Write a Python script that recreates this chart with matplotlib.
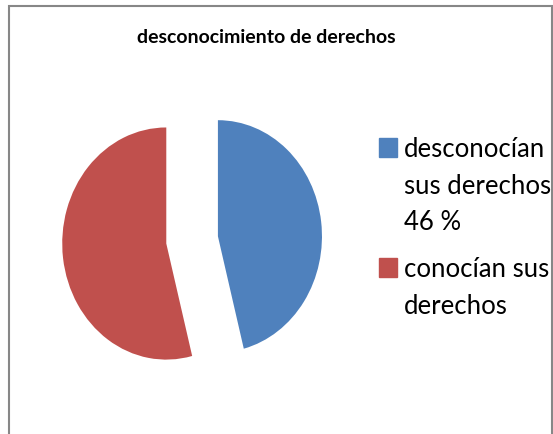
import matplotlib
matplotlib.use("Agg")
import matplotlib.pyplot as plt
from matplotlib.patches import Rectangle

# data
labels = ["desconocían\nsus derechos\n46 %", "conocían sus\nderechos"]
values = [46, 54]
colors = ["#4F81BD", "#C0504D"]
title = "desconocimiento de derechos"

W, H = 553, 434
fig = plt.figure(figsize=(W / 100, H / 100), dpi=100)

# pie axes: Excel style stretched pie (not equal aspect)
ax = fig.add_axes([25.6 / W, (H - 402.4) / H, 333 / W, 325 / H])
wedges, _ = ax.pie(values, colors=colors, startangle=90, counterclock=False,
                   explode=[0.25, 0.25], radius=1.0, wedgeprops=dict(linewidth=0))
ax.set_aspect("auto")
ax.set_xlim(-1.6, 1.6)
ax.set_ylim(-1.4, 1.4)
ax.axis("off")

# outer frame
fig.patches.append(Rectangle((9 / W, -0.1), (552 - 9) / W, 1.1 - 5.5 / H,
                             transform=fig.transFigure, fill=False,
                             edgecolor="#878787", linewidth=1.5))

fig.text(266 / W, 1 - 43 / H, title, ha="center", va="baseline",
         fontsize=14, fontweight="bold", family="Lato")

# legend drawn by hand so the marker sits on the first line
box_top = [138, 258]
line_gap = 36.5
for i, (lab, col) in enumerate(zip(labels, colors)):
    top = box_top[i]
    fig.patches.append(Rectangle((379 / W, 1 - (top + 19) / H), 18 / W, 19 / H,
                                 transform=fig.transFigure, color=col))
    for j, line in enumerate(lab.split("\n")):
        y = top + 19 + j * line_gap
        fig.text(404 / W, 1 - y / H, line, ha="left", va="baseline",
                 fontsize=18.5, family="Lato")

fig.savefig("out.png", dpi=100)
